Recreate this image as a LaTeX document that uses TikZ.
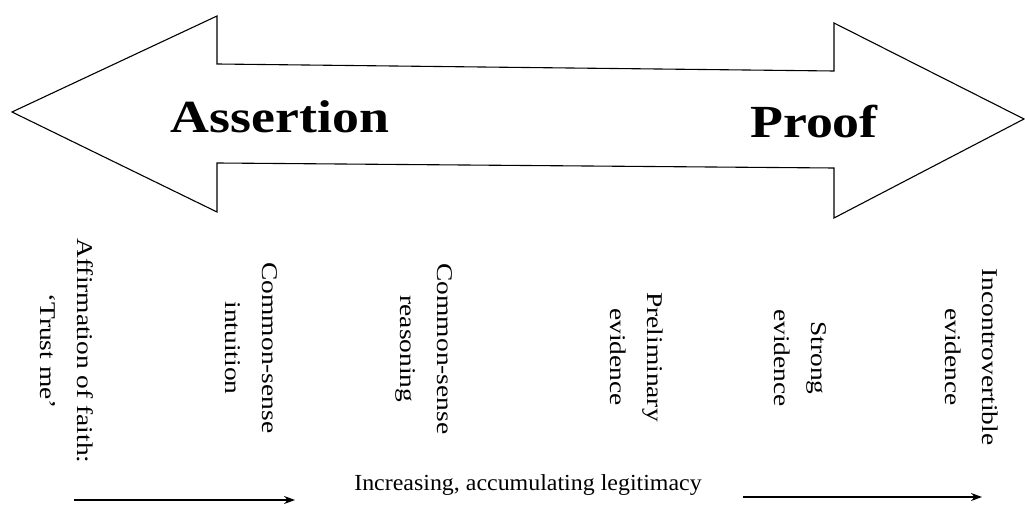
\documentclass[tikz,border=0pt]{standalone}
\usepackage{fontspec}
\setmainfont{Liberation Serif}
\usetikzlibrary{arrows.meta}
\tikzset{
  stage/.style={rotate=-90, xscale=1.22, align=center, inner sep=0pt,
    font=\fontsize{22.5}{37}\selectfont},
  pole/.style={xscale=1.17, inner sep=0pt, anchor=base,
    font=\fontsize{46}{50}\selectfont\bfseries},
  trend/.style={line width=1.6pt, -{Stealth[length=11pt,width=8pt]}}
}
\begin{document}
\begin{tikzpicture}[x=1pt,y=-1pt]
\useasboundingbox (0,0) rectangle (1025,510);

\draw[line width=1.1pt] (12,112) -- (217,16) -- (217,64) -- (834,71) -- (834,23)
  -- (1024,119) -- (834,218) -- (834,168) -- (217,163) -- (217,212) -- cycle;

\node[pole] (assert) at (280,133) {Assertion};
\node[pole] (proof) at (814,138) {Proof};

\node[stage] (faith) at (66.5,351) {Affirmation of faith:\\`Trust me'};
\node[stage] (intuition) at (251,348) {Common-sense\\intuition};
\node[stage] (reasoning) at (424,349) {Common-sense\\reasoning};
\node[stage] (prelim) at (637,357) {Preliminary\\evidence};
\node[stage] (strong) at (800,358) {Strong\\evidence};
\node[stage] (incontro) at (972,357) {Incontrovertible\\evidence};

\coordinate (l0) at (74,500);
\coordinate (l1) at (295,500);
\coordinate (r0) at (743,497);
\coordinate (r1) at (982,497);
\draw[trend] (l0) -- (l1);
\draw[trend] (r0) -- (r1);

\node[anchor=base, xscale=1.04, inner sep=0pt, font=\fontsize{23}{28}\selectfont]
  (legit) at (528,490) {Increasing, accumulating legitimacy};
\end{tikzpicture}
\end{document}
